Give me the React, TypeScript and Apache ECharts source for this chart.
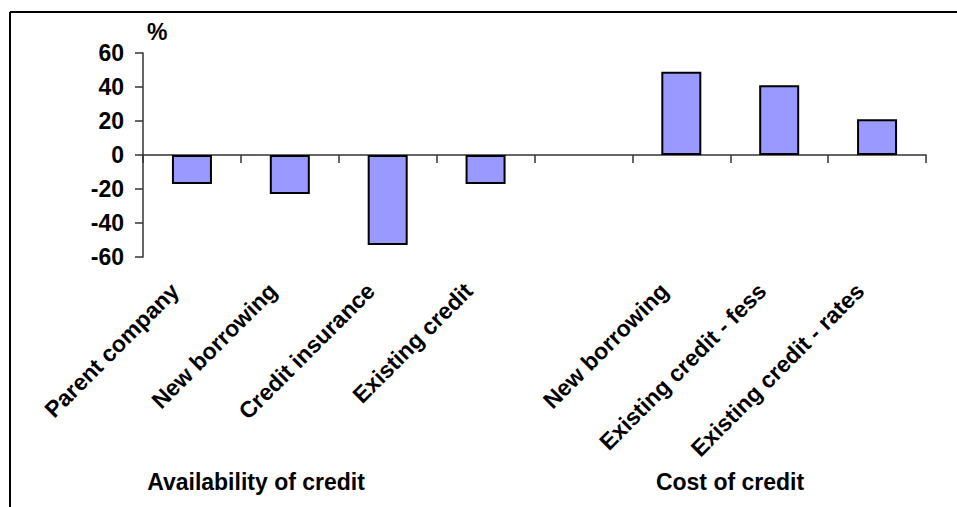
import React, { useEffect, useRef } from "react";
import * as echarts from "echarts";

// Net balance of responses, per cent
const categories = [
  "Parent company",
  "New borrowing",
  "Credit insurance",
  "Existing credit",
  "",
  "New borrowing",
  "Existing credit - fess",
  "Existing credit - rates",
];
const values: (number | null)[] = [-17, -23, -53, -17, null, 49, 41, 21];

const yMin = -60;
const yMax = 60;
const yStep = 20;

const groupLabels = ["Availability of credit", "Cost of credit"];
const unitLabel = "%";

const FONT = "'Liberation Sans', Arial, sans-serif";
const FS = 23;

export default function App() {
  const ref = useRef<HTMLDivElement>(null);

  useEffect(() => {
    if (!ref.current) return;
    const chart = echarts.init(ref.current, undefined, { renderer: "svg" });

    const labelStyle = {
      color: "#000",
      fontFamily: FONT,
      fontWeight: "bold" as const,
      fontSize: FS,
    };

    chart.setOption({
      animation: false,
      backgroundColor: "#fff",
      grid: { left: 143, right: 31, top: 53, bottom: 250, containLabel: false },
      xAxis: [
        {
          type: "category",
          data: categories,
          position: "bottom",
          axisLine: { show: true, onZero: true, lineStyle: { color: "#333", width: 1.5 } },
          axisTick: { show: true, length: 8, interval: 0, lineStyle: { color: "#333", width: 1.5 } },
          axisLabel: { show: false },
          splitLine: { show: false },
        },
        {
          type: "category",
          data: categories,
          position: "bottom",
          axisLine: { show: false, onZero: false },
          axisTick: { show: false },
          axisLabel: { ...labelStyle, interval: 0, rotate: 45, margin: 13, padding: [0, 24, 0, 0] },
          splitLine: { show: false },
        },
      ],
      yAxis: {
        type: "value",
        min: yMin,
        max: yMax,
        interval: yStep,
        axisLine: { show: true, lineStyle: { color: "#333", width: 1.5 } },
        axisTick: { show: true, length: 8, lineStyle: { color: "#333", width: 1.5 } },
        axisLabel: { ...labelStyle, margin: 19 },
        splitLine: { show: false },
      },
      series: [
        {
          type: "bar",
          xAxisIndex: 0,
          data: values,
          barWidth: 40,
          itemStyle: { color: "#9999FF", borderColor: "#000", borderWidth: 2 },
        },
      ],
      graphic: [
        {
          type: "line",
          shape: { x1: 10, y1: 12, x2: 957, y2: 12 },
          style: { stroke: "#000", lineWidth: 2 },
        },
        {
          type: "line",
          shape: { x1: 10, y1: 12, x2: 10, y2: 507 },
          style: { stroke: "#000", lineWidth: 2 },
        },
        {
          type: "text",
          x: 147,
          y: 32,
          style: {
            text: unitLabel,
            fill: "#000",
            font: `bold ${FS}px ${FONT}`,
            textAlign: "left",
            textVerticalAlign: "middle",
          },
        },
        {
          type: "text",
          x: 256,
          y: 482,
          style: {
            text: groupLabels[0],
            fill: "#000",
            font: `bold ${FS}px ${FONT}`,
            textAlign: "center",
            textVerticalAlign: "middle",
          },
        },
        {
          type: "text",
          x: 730,
          y: 482,
          style: {
            text: groupLabels[1],
            fill: "#000",
            font: `bold ${FS}px ${FONT}`,
            textAlign: "center",
            textVerticalAlign: "middle",
          },
        },
      ],
    });

    return () => chart.dispose();
  }, []);

  return (
    <div
      ref={ref}
      style={{ position: "fixed", left: 0, top: 0, width: 957, height: 507 }}
    />
  );
}
